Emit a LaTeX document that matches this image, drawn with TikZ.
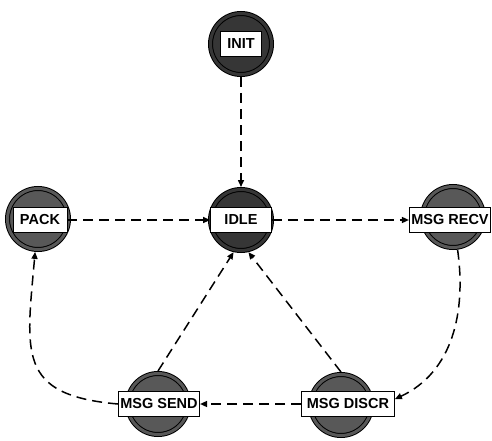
\documentclass[tikz,border=0pt]{standalone}
\usepackage{fontspec}
\setmainfont{Liberation Sans}
\usepackage{xcolor}
\usepackage{tikz}
\usetikzlibrary{arrows.meta}
\definecolor{G0}{HTML}{363636}
\definecolor{G1}{HTML}{585858}

\begin{document}
\begin{tikzpicture}[x=1pt,y=1pt]
\tikzstyle{st}=[draw,shape=circle,line width=1pt,double distance=3pt,minimum size=61pt,inner sep=0pt,outer sep=2.5pt]
\tikzstyle{tag}=[draw,shape=rectangle,fill=white,line width=0.8pt,minimum height=25pt,inner sep=2pt,font=\fontsize{14.5}{17}\selectfont\bfseries]
\tikzstyle{tr}=[-{Triangle[length=7pt,width=6pt]},line width=1.5pt,dash pattern=on 10pt off 6pt]
\useasboundingbox (0,0) rectangle (492,440);

\node[st,fill=G0,double=G0](init) at (241,396){};
\node[tag,minimum width=41pt](initT) at (init){INIT};
\node[st,fill=G0,double=G0](idle) at (241,220){};
\node[tag,minimum width=61pt](idleT) at (241,220){IDLE};
\node[st,fill=G1,double=G1](pack) at (38,221){};
\node[tag,minimum width=54pt](packT) at (40,220){PACK};
\node[st,fill=G1,double=G1](recv) at (453,223){};
\node[tag,minimum width=81pt](recvT) at (450,220){MSG RECV};
%
\node[st,fill=G1,double=G1](send) at (158,36){};
\node[tag,minimum width=80pt](sendT) at (159,36){MSG SEND};
\node[st,fill=G1,double=G1](discr) at (341,35){};
\node[tag,minimum width=93pt](discrT) at (348,36){MSG DISCR};
%
\draw[tr] (init) -- (idle);
\draw[tr] (packT) -- (idleT);
\draw[tr] (idleT) -- (recvT);
\draw[tr] (recv) to[out=-82,in=25] (discrT.6);
\draw[tr] (discrT) -- (sendT);
\draw[tr] (sendT.west) to[out=175,in=-95,looseness=1.5] (pack);
\draw[tr] (send.north) -- (idle.-103);
\draw[tr] (discr.north) -- (idle.-77);
\end{tikzpicture}
\end{document}
